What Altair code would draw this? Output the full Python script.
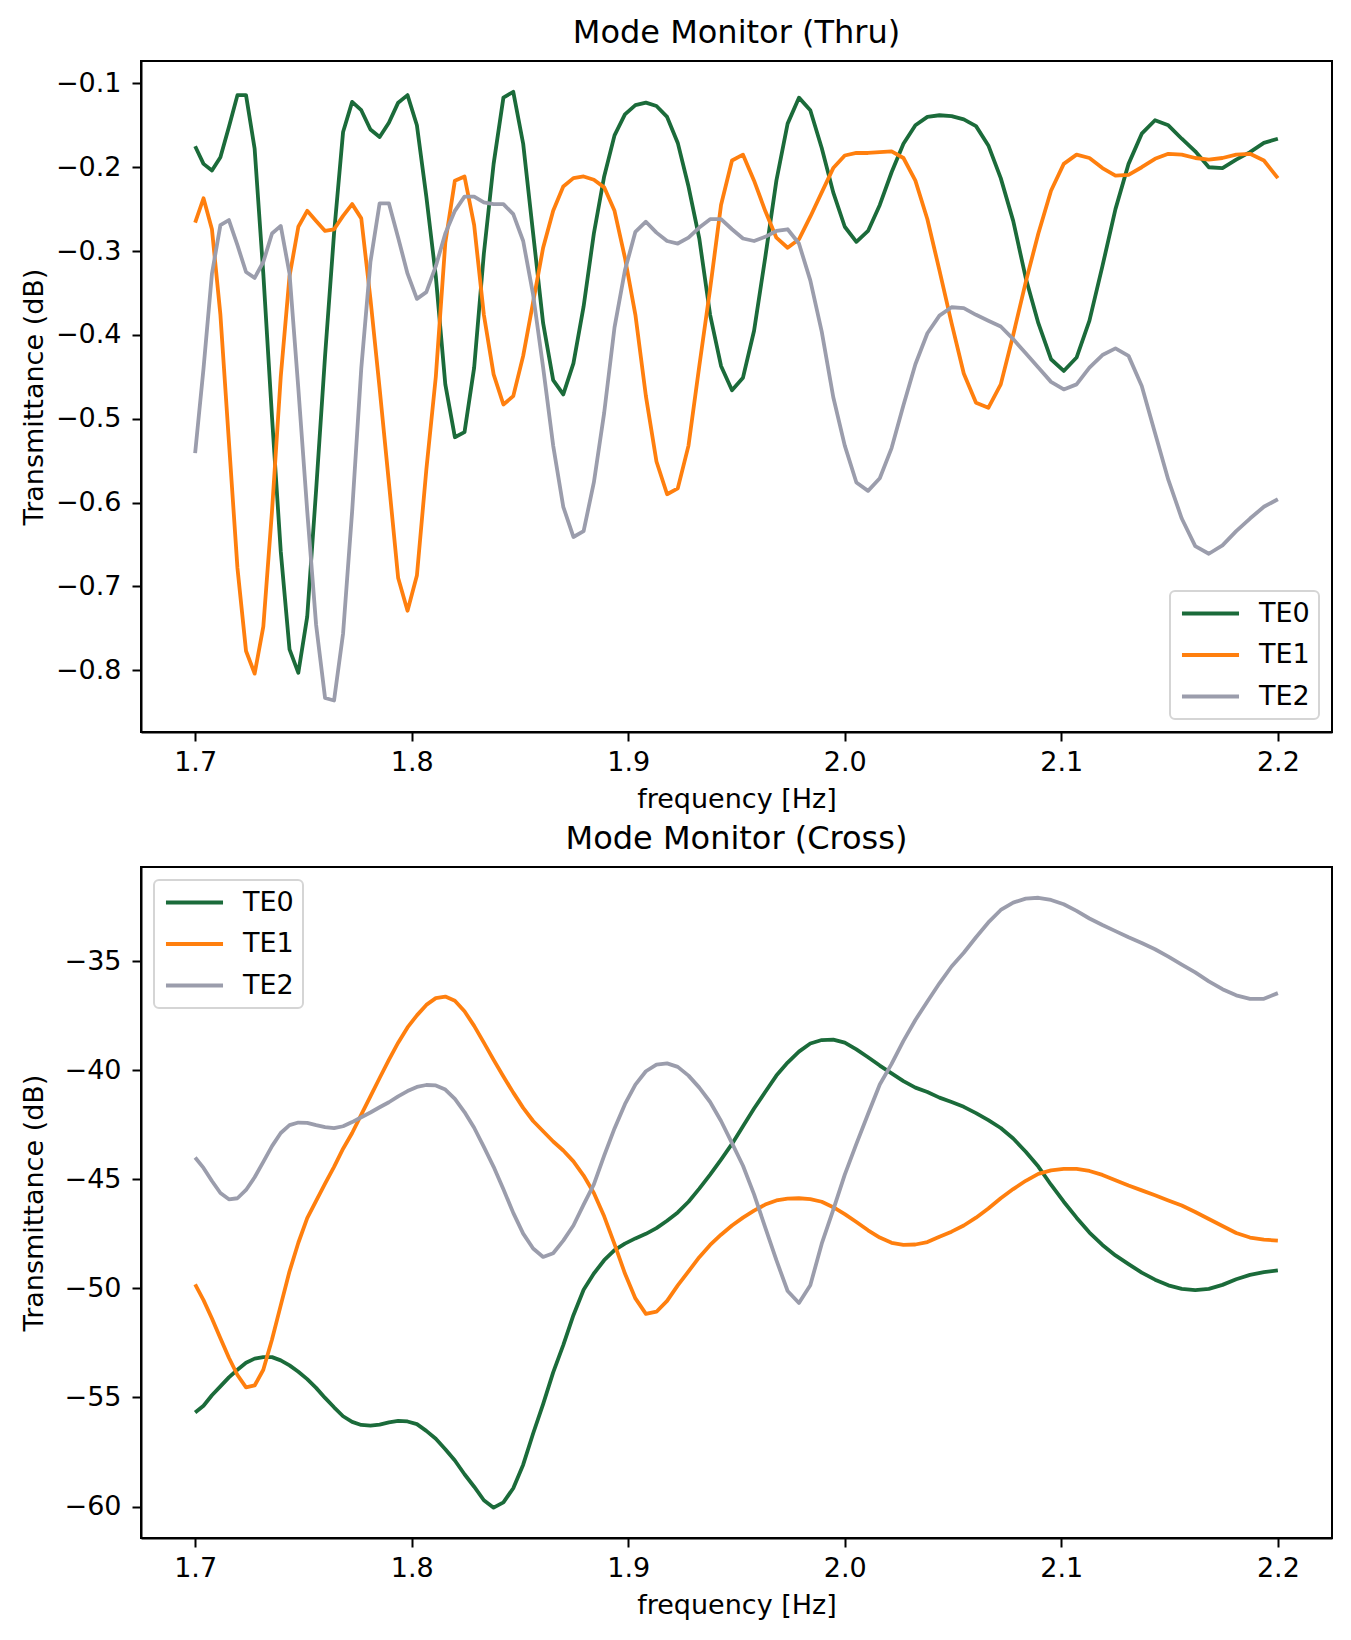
import altair as alt
import pandas as pd

TITLE_FONT_SIZE = 32
AXIS_FONT_SIZE = 27
FONT = "DejaVu Sans"

MODES = ["TE0", "TE1", "TE2"]
MODE_COLORS = ["#1b6b3a", "#ff7f0e", "#9b9dac"]

# sweep grid (uniform in wavelength, so the frequency steps widen)
FREQ = [
    1.70000, 1.70387, 1.70776, 1.71167, 1.71559, 1.71954, 1.72350, 1.72748, 1.73148, 1.73550,
    1.73953, 1.74359, 1.74766, 1.75176, 1.75587, 1.76000, 1.76415, 1.76832, 1.77251, 1.77672,
    1.78095, 1.78520, 1.78947, 1.79376, 1.79808, 1.80241, 1.80676, 1.81114, 1.81553, 1.81995,
    1.82439, 1.82885, 1.83333, 1.83784, 1.84236, 1.84691, 1.85149, 1.85608, 1.86070, 1.86534,
    1.87000, 1.87469, 1.87940, 1.88413, 1.88889, 1.89367, 1.89848, 1.90331, 1.90816, 1.91304,
    1.91795, 1.92288, 1.92784, 1.93282, 1.93782, 1.94286, 1.94792, 1.95300, 1.95811, 1.96325,
    1.96842, 1.97361, 1.97884, 1.98408, 1.98936, 1.99467, 2.00000, 2.00536, 2.01075, 2.01617,
    2.02162, 2.02709, 2.03261, 2.03815, 2.04372, 2.04932, 2.05495, 2.06061, 2.06630, 2.07203,
    2.07778, 2.08357, 2.08939, 2.09524, 2.10112, 2.10704, 2.11299, 2.11898, 2.12500, 2.13105,
    2.13714, 2.14327, 2.14943, 2.15562, 2.16185, 2.16812, 2.17442, 2.18076, 2.18713, 2.19355,
    2.20000,
]

# --- Thru monitor (dB) ---
THRU_TE0 = [
    -0.175, -0.196, -0.204, -0.188, -0.152, -0.114, -0.114, -0.178, -0.327, -0.498,
    -0.658, -0.775, -0.803, -0.736, -0.585, -0.425, -0.279, -0.158, -0.122, -0.132,
    -0.155, -0.164, -0.147, -0.123, -0.114, -0.150, -0.235, -0.330, -0.459, -0.522,
    -0.516, -0.439, -0.303, -0.196, -0.117, -0.110, -0.172, -0.279, -0.386, -0.454,
    -0.471, -0.434, -0.366, -0.279, -0.211, -0.162, -0.137, -0.126, -0.123, -0.127,
    -0.140, -0.171, -0.223, -0.285, -0.376, -0.437, -0.466, -0.451, -0.395, -0.308,
    -0.216, -0.148, -0.117, -0.132, -0.177, -0.230, -0.271, -0.289, -0.276, -0.245,
    -0.206, -0.172, -0.150, -0.140, -0.138, -0.139, -0.143, -0.151, -0.174, -0.213,
    -0.264, -0.332, -0.386, -0.429, -0.443, -0.427, -0.383, -0.318, -0.250, -0.196,
    -0.160, -0.144, -0.150, -0.166, -0.181, -0.200, -0.201, -0.191, -0.182, -0.171,
    -0.166,
]
THRU_TE1 = [
    -0.266, -0.237, -0.274, -0.376, -0.527, -0.678, -0.777, -0.804, -0.748, -0.610,
    -0.450, -0.330, -0.271, -0.252, -0.264, -0.276, -0.274, -0.258, -0.244, -0.261,
    -0.357, -0.464, -0.576, -0.690, -0.729, -0.687, -0.561, -0.450, -0.290, -0.216,
    -0.211, -0.269, -0.376, -0.447, -0.483, -0.473, -0.425, -0.361, -0.296, -0.252,
    -0.223, -0.213, -0.211, -0.215, -0.224, -0.252, -0.308, -0.376, -0.473, -0.551,
    -0.590, -0.583, -0.532, -0.437, -0.345, -0.245, -0.192, -0.185, -0.216, -0.252,
    -0.284, -0.296, -0.286, -0.259, -0.230, -0.201, -0.186, -0.183, -0.183, -0.182,
    -0.181, -0.189, -0.216, -0.262, -0.323, -0.386, -0.446, -0.481, -0.487, -0.459,
    -0.400, -0.337, -0.279, -0.228, -0.196, -0.185, -0.189, -0.201, -0.210, -0.209,
    -0.200, -0.190, -0.184, -0.185, -0.189, -0.191, -0.189, -0.185, -0.184, -0.192,
    -0.213,
]
THRU_TE2 = [
    -0.541, -0.440, -0.327, -0.269, -0.263, -0.293, -0.325, -0.332, -0.313, -0.279,
    -0.270, -0.327, -0.464, -0.610, -0.746, -0.833, -0.836, -0.756, -0.610, -0.440,
    -0.313, -0.243, -0.243, -0.284, -0.327, -0.357, -0.349, -0.318, -0.279, -0.252,
    -0.235, -0.235, -0.242, -0.244, -0.244, -0.256, -0.288, -0.352, -0.439, -0.532,
    -0.605, -0.641, -0.634, -0.576, -0.493, -0.391, -0.323, -0.277, -0.265, -0.278,
    -0.288, -0.291, -0.284, -0.272, -0.262, -0.262, -0.274, -0.285, -0.288, -0.283,
    -0.276, -0.274, -0.291, -0.335, -0.396, -0.474, -0.532, -0.576, -0.586, -0.571,
    -0.535, -0.484, -0.435, -0.398, -0.377, -0.367, -0.368, -0.376, -0.383, -0.390,
    -0.405, -0.422, -0.439, -0.456, -0.465, -0.459, -0.439, -0.424, -0.416, -0.425,
    -0.461, -0.517, -0.573, -0.619, -0.652, -0.661, -0.651, -0.634, -0.619, -0.605,
    -0.596,
]

# --- Cross monitor (dB) ---
CROSS_TE0 = [
    -55.69, -55.38, -54.90, -54.49, -54.08, -53.73, -53.41, -53.22, -53.15, -53.15,
    -53.30, -53.53, -53.82, -54.16, -54.56, -55.02, -55.45, -55.86, -56.12, -56.26,
    -56.29, -56.24, -56.14, -56.07, -56.10, -56.22, -56.53, -56.89, -57.37, -57.89,
    -58.52, -59.09, -59.71, -60.05, -59.81, -59.16, -58.08, -56.65, -55.30, -53.85,
    -52.60, -51.23, -50.06, -49.32, -48.71, -48.25, -47.95, -47.71, -47.50, -47.24,
    -46.90, -46.52, -46.03, -45.43, -44.79, -44.10, -43.38, -42.57, -41.76, -41.00,
    -40.25, -39.65, -39.15, -38.78, -38.62, -38.60, -38.74, -39.05, -39.41, -39.79,
    -40.15, -40.50, -40.80, -41.00, -41.26, -41.46, -41.68, -41.97, -42.29, -42.65,
    -43.13, -43.74, -44.42, -45.25, -46.03, -46.76, -47.44, -48.01, -48.49, -48.89,
    -49.28, -49.60, -49.86, -50.02, -50.08, -50.02, -49.84, -49.58, -49.38, -49.26,
    -49.18,
]
CROSS_TE1 = [
    -49.82, -50.54, -51.38, -52.29, -53.18, -53.97, -54.54, -54.45, -53.73, -52.34,
    -50.78, -49.22, -47.91, -46.78, -45.99, -45.20, -44.43, -43.60, -42.88, -42.04,
    -41.20, -40.36, -39.53, -38.74, -38.04, -37.49, -37.01, -36.70, -36.63, -36.82,
    -37.30, -37.97, -38.74, -39.53, -40.29, -41.03, -41.73, -42.33, -42.80, -43.27,
    -43.68, -44.18, -44.83, -45.63, -46.70, -47.97, -49.32, -50.46, -51.17, -51.07,
    -50.57, -49.86, -49.22, -48.57, -48.01, -47.54, -47.12, -46.76, -46.44, -46.16,
    -45.97, -45.89, -45.87, -45.91, -46.03, -46.28, -46.60, -46.96, -47.34, -47.67,
    -47.91, -48.01, -47.99, -47.88, -47.63, -47.40, -47.12, -46.76, -46.34, -45.87,
    -45.45, -45.07, -44.75, -44.59, -44.52, -44.52, -44.62, -44.80, -45.05, -45.29,
    -45.51, -45.73, -45.97, -46.20, -46.50, -46.82, -47.14, -47.46, -47.67, -47.77,
    -47.81,
]
CROSS_TE2 = [
    -44.00, -44.48, -45.08, -45.63, -45.92, -45.87, -45.49, -44.91, -44.20, -43.48,
    -42.88, -42.52, -42.40, -42.42, -42.52, -42.61, -42.66, -42.57, -42.38, -42.16,
    -41.94, -41.70, -41.47, -41.20, -40.96, -40.77, -40.68, -40.70, -40.89, -41.32,
    -41.92, -42.64, -43.52, -44.43, -45.46, -46.54, -47.49, -48.17, -48.56, -48.39,
    -47.81, -47.12, -46.16, -45.23, -43.92, -42.67, -41.56, -40.66, -40.05, -39.75,
    -39.69, -39.85, -40.25, -40.80, -41.46, -42.33, -43.34, -44.38, -45.69, -47.20,
    -48.71, -50.12, -50.67, -49.86, -47.95, -46.40, -44.79, -43.38, -42.01, -40.66,
    -39.71, -38.66, -37.70, -36.85, -36.02, -35.25, -34.62, -33.91, -33.23, -32.66,
    -32.32, -32.14, -32.10, -32.20, -32.40, -32.70, -33.05, -33.35, -33.63, -33.91,
    -34.17, -34.46, -34.80, -35.16, -35.52, -35.93, -36.29, -36.57, -36.73, -36.73,
    -36.47,
]

X_TICKS = [1.7, 1.8, 1.9, 2.0, 2.1, 2.2]
THRU_TICKS = [-0.8, -0.7, -0.6, -0.5, -0.4, -0.3, -0.2, -0.1]
CROSS_TICKS = [-60, -55, -50, -45, -40, -35]


def long_df(series):
    rows = []
    for mode, values in zip(MODES, series):
        assert len(values) == len(FREQ), (mode, len(values))
        for f, v in zip(FREQ, values):
            rows.append({"freq": f, "value": v, "mode": mode})
    return pd.DataFrame(rows)


def panel(df, title, y_domain, y_ticks, y_format, legend_orient):
    return alt.Chart(df).mark_line(strokeWidth=3.8, strokeJoin="round").encode(
        x=alt.X(
            "freq:Q",
            title="frequency [Hz]",
            scale=alt.Scale(domain=[1.675, 2.225], nice=False, zero=False),
            axis=alt.Axis(values=X_TICKS, format=".1f"),
        ),
        y=alt.Y(
            "value:Q",
            title="Transmittance (dB)",
            scale=alt.Scale(domain=y_domain, nice=False, zero=False),
            axis=alt.Axis(values=y_ticks, format=y_format),
        ),
        color=alt.Color(
            "mode:N",
            scale=alt.Scale(domain=MODES, range=MODE_COLORS),
            legend=alt.Legend(title=None, orient=legend_orient),
        ),
    ).properties(
        width=1191,
        height=671,
        title=alt.TitleParams(
            text=title,
            fontSize=TITLE_FONT_SIZE,
            fontWeight="normal",
            font=FONT,
            color="black",
            anchor="middle",
            baseline="top",
            offset=11,
        ),
    )


thru = panel(long_df([THRU_TE0, THRU_TE1, THRU_TE2]), "Mode Monitor (Thru)",
             [-0.8736, -0.0733], THRU_TICKS, ".1f", "bottom-right")
cross = panel(long_df([CROSS_TE0, CROSS_TE1, CROSS_TE2]), "Mode Monitor (Cross)",
              [-61.44, -30.69], CROSS_TICKS, "d", "top-left")

chart = alt.vconcat(thru, cross, spacing=9).configure(
    font=FONT,
    padding={"left": 11, "top": 8, "right": 5, "bottom": 5},
).configure_view(
    stroke="black",
    strokeWidth=2,
).configure_axis(
    grid=False,
    domainColor="black",
    domainWidth=2,
    tickColor="black",
    tickWidth=2,
    tickSize=9,
    labelFont=FONT,
    labelFontSize=AXIS_FONT_SIZE,
    labelColor="black",
    titleFont=FONT,
    titleFontSize=AXIS_FONT_SIZE,
    titleFontWeight="normal",
    titleColor="black",
).configure_axisY(
    minExtent=85,
    maxExtent=85,
    labelPadding=11,
    titlePadding=8,
).configure_axisX(
    labelPadding=8,
    titlePadding=11,
).configure_legend(
    # wide horizontal stroke, scaled from a small symbol size so rows stay tight
    symbolType="M-2.48,0L2.48,0",
    symbolSize=529,
    symbolStrokeWidth=4,
    symbolOffset=18,
    labelFont=FONT,
    labelFontSize=AXIS_FONT_SIZE,
    labelColor="black",
    labelOffset=35,
    padding=9,
    rowPadding=13.5,
    offset=13,
    strokeColor="#d5d5d5",
    strokeWidth=2,
    cornerRadius=5,
    fillColor="white",
)

chart.save("out.html", embed_options={"renderer": "svg", "actions": False})
